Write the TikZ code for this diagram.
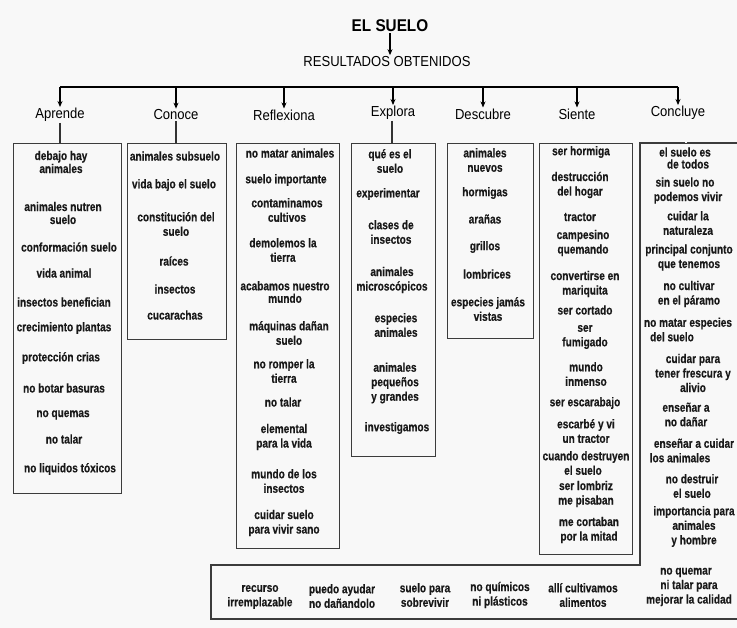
\documentclass[tikz,border=0pt]{standalone}
\usepackage{fontspec}
\usetikzlibrary{arrows.meta}
\newfontfamily\itemfont{Liberation Sans}[FakeStretch=0.8, BoldFeatures={FakeBold=0.35}]
\newfontfamily\hdrfont{Liberation Sans}[FakeStretch=0.9]
\definecolor{bg}{RGB}{248,248,248}
\definecolor{boxc}{RGB}{60,60,60}
\tikzset{
  itm/.style={font=\itemfont\bfseries\fontsize{12.6}{14.5}\selectfont, align=center, inner sep=0pt, text=black!90},
  hdr/.style={font=\hdrfont\fontsize{14.5}{16}\selectfont, inner sep=1pt},
  boxs/.style={draw=boxc, line width=1.1pt, anchor=north west, inner sep=0pt},
  arr/.style={-{Stealth[length=6pt,width=5pt]}, line width=1.4pt},
  conn/.style={line width=1.1pt, draw=black!80},
  dconn/.style={draw=black!60, line width=0.7pt, double=bg, double distance=1.3pt},
}
\begin{document}
\begin{tikzpicture}[x=1pt,y=-1pt]
\path[fill=bg] (0,0) rectangle (737,628);
\useasboundingbox (0,0) rectangle (737,628);
\clip (0,0) rectangle (737,628);

% title
\node[font=\hdrfont\bfseries\fontsize{17}{19}\selectfont, inner sep=1pt] (title) at (390,26) {EL SUELO};
\node[hdr] (res) at (387,61.5) {RESULTADOS OBTENIDOS};
\draw[arr] (title.south) -- (title.south |- res.north);

% headers
\node[hdr] (h1) at (60,115) {Aprende};
\node[hdr] (h2) at (176,115) {Conoce};
\node[hdr] (h3) at (284,115) {Reflexiona};
\node[hdr] (h4) at (393,113) {Explora};
\node[hdr] (h5) at (483,114) {Descubre};
\node[hdr] (h6) at (577,114) {Siente};
\node[hdr] (h7) at (678,113) {Concluye};

% bus
\coordinate (busL) at (60,87);
\coordinate (busR) at (678,87);
\draw[line width=1.6pt] (busL) -- (busR);
\foreach \h in {h1,h2,h3,h4,h5,h6,h7}
  \draw[arr] (\h.north |- busL) -- (\h.north);

% boxes
\node[boxs, minimum width=108pt, minimum height=350pt] (b1) at (13,143) {};
\node[boxs, minimum width=99pt, minimum height=196pt] (b2) at (127,143) {};
\node[boxs, minimum width=103pt, minimum height=405pt] (b3) at (236,143) {};
\node[boxs, minimum width=84pt, minimum height=313pt] (b4) at (351,143) {};
\node[boxs, minimum width=86pt, minimum height=195pt] (b5) at (447,143) {};
\node[boxs, minimum width=93pt, minimum height=411pt] (b6) at (539,143) {};
\draw[draw=boxc, line width=1.1pt] (760,143) -- (640,143) -- (640,565) -- (211,565) -- (211,619) -- (760,619);

% connectors header -> box
\coordinate (k1) at (60,143);
\coordinate (k2) at (176,143);
\coordinate (k3) at (284,143);
\coordinate (k4) at (392,143);
\coordinate (k5) at (485,143);
\coordinate (k6) at (582,143);
\coordinate (k7) at (686,143);
\draw[conn] (k1 |- h1.south) -- (k1);
\draw[conn] (k2 |- h2.south) -- (k2);
\draw[dconn] (k3 |- h3.south) -- (k3);
\draw[conn] (k4 |- h4.south) -- (k4);
\draw[dconn] (k5 |- h5.south) -- (k5);
\draw[dconn] (k6 |- h6.south) -- (k6);
\draw[dconn] (k7 |- h7.south) -- (k7);

% Aprende
\node[itm] (ap1) at (61,162) {debajo hay\\[-1.5pt]animales};
\node[itm] (ap2) at (63,213) {animales nutren\\[-1.5pt]suelo};
\node[itm] (ap3) at (69,247) {conformación suelo};
\node[itm] (ap4) at (64,273) {vida animal};
\node[itm] (ap5) at (64,302) {insectos benefician};
\node[itm] (ap6) at (64,328) {crecimiento plantas};
\node[itm] (ap7) at (61,358) {protección crias};
\node[itm] (ap8) at (64,388) {no botar basuras};
\node[itm] (ap9) at (63,415) {no quemas};
\node[itm] (ap10) at (64,439) {no talar};
\node[itm] (ap11) at (70,469) {no liquidos tóxicos};

% Conoce
\node[itm] (co1) at (175,156) {animales subsuelo};
\node[itm] (co2) at (174,185) {vida bajo el suelo};
\node[itm] (co3) at (176,224) {constitución del\\suelo};
\node[itm] (co4) at (174,261) {raíces};
\node[itm] (co5) at (175,289) {insectos};
\node[itm] (co6) at (175,315) {cucarachas};

% Reflexiona
\node[itm] (re1) at (290,153) {no matar animales};
\node[itm] (re2) at (286,180) {suelo importante};
\node[itm] (re3) at (287,210) {contaminamos\\cultivos};
\node[itm] (re4) at (283,250) {demolemos la\\tierra};
\node[itm] (re5) at (285,292) {acabamos nuestro\\[-2pt]mundo};
\node[itm] (re6) at (289,333) {máquinas dañan\\suelo};
\node[itm] (re7) at (284,371) {no romper la\\tierra};
\node[itm] (re8) at (283,402) {no talar};
\node[itm] (re9) at (284,437) {elemental\\para la vida};
\node[itm] (re10) at (284,481) {mundo de los\\insectos};
\node[itm] (re11) at (284,523) {cuidar suelo\\para vivir sano};

% Explora
\node[itm] (ex1) at (390,161) {qué es el\\suelo};
\node[itm] (ex2) at (388,194) {experimentar};
\node[itm] (ex3) at (391,232) {clases de\\insectos};
\node[itm] (ex4) at (392,280) {animales\\microscópicos};
\node[itm] (ex5) at (396,325) {especies\\animales};
\node[itm] (ex6) at (395,383) {animales\\pequeños\\y grandes};
\node[itm] (ex7) at (397,428) {investigamos};

% Descubre
\node[itm] (de1) at (485,160) {animales\\nuevos};
\node[itm] (de2) at (485,193) {hormigas};
\node[itm] (de3) at (485,219) {arañas};
\node[itm] (de4) at (485,247) {grillos};
\node[itm] (de5) at (487,274) {lombrices};
\node[itm] (de6) at (488,309) {especies jamás\\vistas};

% Siente
\node[itm] (si1) at (581,152) {ser hormiga};
\node[itm] (si2) at (580,185) {destrucción\\del hogar};
\node[itm] (si3) at (580,217) {tractor};
\node[itm] (si4) at (583,243) {campesino\\quemando};
\node[itm] (si5) at (585,284) {convertirse en\\mariquita};
\node[itm] (si6) at (585,310) {ser cortado};
\node[itm] (si7) at (585,337) {ser\\fumigado};
\node[itm] (si8) at (586,374) {mundo\\inmenso};
\node[itm] (si9) at (585,403) {ser escarabajo};
\node[itm] (si10) at (586,431) {escarbé y vi\\un tractor};
\node[itm] (si11) at (586,463) {cuando destruyen\\el suelo\hspace*{6pt}};
\node[itm] (si12) at (586,494) {ser lombriz\\me pisaban};
\node[itm] (si13) at (589,530) {me cortaban\\por la mitad};

% Concluye
\node[itm] (cn1) at (685,158) {el suelo es\\[-2.5pt]\hspace*{6pt}de todos};
\node[itm] (cn2) at (685,190.5) {sin suelo no\\\hspace*{6pt}podemos vivir};
\node[itm] (cn3) at (688,223) {cuidar la\\naturaleza};
\node[itm] (cn4) at (689,257.5) {principal conjunto\\que tenemos};
\node[itm] (cn5) at (689,294) {no cultivar\\en el páramo};
\node[itm] (cn6) at (688,329.5) {no matar especies\\del suelo\hspace*{32pt}};
\node[itm] (cn7) at (693,373) {cuidar para\\tener frescura y\\alivio};
\node[itm] (cn8) at (686,414.5) {enseñar a\\no dañar};
\node[itm] (cn9) at (694,450.5) {enseñar a cuidar\\los animales\hspace*{28pt}};
\node[itm] (cn10) at (692,486) {no destruir\\el suelo};
\node[itm] (cn11) at (694,526.5) {importancia para\\animales\\y hombre};
\node[itm] (cn12) at (689,587) {no quemar\hspace*{6pt}\\ni talar para\hspace*{6pt}\\mejorar la calidad};

% bottom row
\node[itm] (bt1) at (260,597) {recurso\\irremplazable};
\node[itm] (bt2) at (342,596) {puedo ayudar\\no dañandolo};
\node[itm] (bt3) at (425,595) {suelo para\\sobrevivir};
\node[itm] (bt4) at (500,595) {no químicos\\ni plásticos};
\node[itm] (bt5) at (583,595) {allí cultivamos\\alimentos};
\end{tikzpicture}
\end{document}
